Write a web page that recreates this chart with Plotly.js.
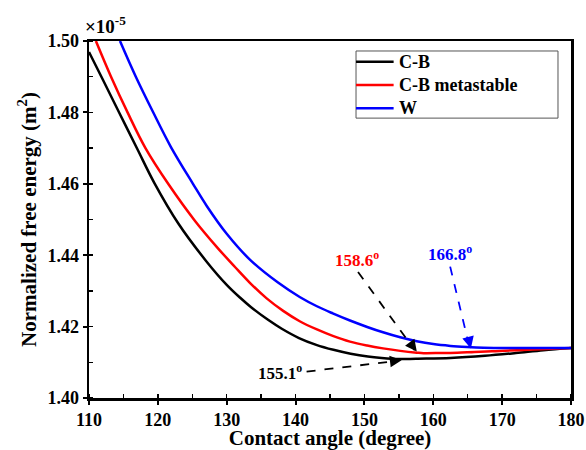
<!DOCTYPE html>
<html>
<head>
<meta charset="utf-8">
<script src="https://cdn.plot.ly/plotly-3.0.1.min.js"></script>
<style>
html,body{margin:0;padding:0;background:#fff;}
#chart{width:586px;height:450px;}
</style>
</head>
<body>
<div id="chart"></div>
<script>
// Contact angle (degree) and normalized free energy (x1e-5 m^2)
const cbAngle = [110, 112, 114.5, 117, 119.5, 123, 127, 130, 132, 133.5, 136, 138, 140.5, 143, 145.5, 148, 150.5, 152.5, 155.1, 157.5, 162.5, 167.5, 172, 176, 180];
const cbEnergy = [1.4969, 1.4892, 1.4795, 1.4698, 1.4602, 1.4488, 1.4384, 1.4317, 1.4280, 1.4255, 1.4219, 1.4194, 1.4168, 1.4149, 1.4135, 1.4124, 1.4116, 1.4112, 1.4109, 1.4110, 1.4112, 1.4118, 1.4126, 1.4134, 1.4140];

const cbmAngle = [111.0, 113.2, 115.6, 118.2, 121.5, 125.4, 128.7, 131.2, 133.4, 135.8, 138.2, 140.6, 143.1, 145.4, 147.9, 150.4, 152.7, 155.2, 157.6, 158.6, 161, 163.5, 166, 169, 172.2, 176.3, 180];
const cbmEnergy = [1.5000, 1.4900, 1.4800, 1.4700, 1.4600, 1.4496, 1.4420, 1.4367, 1.4322, 1.4279, 1.4244, 1.4215, 1.4192, 1.4174, 1.4158, 1.4147, 1.4139, 1.4132, 1.4127, 1.41255, 1.4126, 1.4127, 1.4129, 1.4131, 1.4134, 1.4137, 1.4140];

const wAngle = [114.5, 116.8, 119.3, 121.9, 125.1, 127.1, 130.0, 133.4, 137.4, 140.6, 143.1, 145.4, 147.9, 150.4, 152.7, 155.2, 157.6, 160.0, 162.5, 164.9, 167.3, 172.2, 180];
const wEnergy = [1.5000, 1.4900, 1.4801, 1.4703, 1.4600, 1.4538, 1.4460, 1.4387, 1.4324, 1.4283, 1.4257, 1.4237, 1.4217, 1.4199, 1.4184, 1.4170, 1.4159, 1.4151, 1.4146, 1.4143, 1.4141, 1.4140, 1.4140];

const seriesNames = ["C-B", "C-B metastable", "W"];
const seriesColors = ["#000000", "#ff0000", "#0000ff"];
const xTicks = [110, 120, 130, 140, 150, 160, 170, 180];
const yTicks = [1.40, 1.42, 1.44, 1.46, 1.48, 1.50];

function tf(size, color) {
  return {family: "Liberation Serif", size: size, color: color || "#000000", weight: 700};
}

const series = [[cbAngle, cbEnergy], [cbmAngle, cbmEnergy], [wAngle, wEnergy]];
const traces = series.map((s, i) => ({
  x: s[0], y: s[1], name: seriesNames[i], mode: "lines", showlegend: false,
  line: {color: seriesColors[i], width: 2.5, shape: "spline", smoothing: 1}
}));

function arrowShaft(x0, y0, x1, y1, color) {
  return {type: "line", xref: "x", yref: "y", x0: x0, y0: y0, x1: x1, y1: y1,
          line: {color: color, width: 1.8, dash: "dash"}};
}
function arrowHead(x, y, ax, ay, color) {
  return {x: x, y: y, xref: "x", yref: "y", text: "", showarrow: true, ax: ax, ay: ay,
          arrowhead: 2, arrowsize: 1.3, arrowwidth: 1.8, arrowcolor: color};
}

// legend box drawn in paper coordinates
const legX0 = 0.554, legX1 = 0.973, legY0 = 0.784, legY1 = 0.972;
const legRowY = [0.942, 0.877, 0.8115];
const legendShapes = [{type: "rect", xref: "paper", yref: "paper", x0: legX0, x1: legX1, y0: legY0, y1: legY1,
                       line: {color: "#555555", width: 1}, fillcolor: "rgba(0,0,0,0)"}];
const legendTexts = [];
seriesNames.forEach((n, i) => {
  legendShapes.push({type: "line", xref: "paper", yref: "paper", x0: legX0, x1: 0.632, y0: legRowY[i], y1: legRowY[i],
                     line: {color: seriesColors[i], width: 2.5}});
  legendTexts.push({x: 0.638, y: legRowY[i], xref: "paper", yref: "paper", xanchor: "left", yanchor: "middle",
                    text: n, showarrow: false, font: tf(18)});
});

const layout = {
  width: 586, height: 450,
  margin: {l: 89, r: 15, t: 41, b: 52},
  paper_bgcolor: "#ffffff", plot_bgcolor: "#ffffff",
  font: {family: "Liberation Serif", color: "#000000"},
  showlegend: false,
  xaxis: {range: [110, 180], tickvals: xTicks, ticktext: xTicks.map(String),
          showline: true, linewidth: 2.5, linecolor: "#000000", mirror: true,
          ticks: "outside", ticklen: 4, tickwidth: 2, tickcolor: "#000000",
          minor: {dtick: 5, ticks: "inside", ticklen: 4, tickwidth: 1.5, tickcolor: "#000000"},
          showgrid: false, zeroline: false, tickfont: tf(18),
          title: {text: "Contact angle (degree)", font: tf(21)}},
  yaxis: {range: [1.40, 1.50], tickvals: yTicks, ticktext: yTicks.map(v => v.toFixed(2)),
          showline: true, linewidth: 2.5, linecolor: "#000000", mirror: true,
          ticks: "outside", ticklen: 4, tickwidth: 2, tickcolor: "#000000",
          minor: {dtick: 0.01, ticks: "inside", ticklen: 4, tickwidth: 1.5, tickcolor: "#000000"},
          showgrid: false, zeroline: false, tickfont: tf(18),
          title: {text: "Normalized free energy (m<sup>2</sup>)", font: tf(21)}},
  shapes: [
    arrowShaft(149.07, 1.4353, 157.3, 1.4134, "#000000"),
    arrowShaft(162.45, 1.4368, 165.2, 1.4147, "#0000ff"),
    arrowShaft(141.6, 1.4074, 154.8, 1.4104, "#000000")
  ].concat(legendShapes),
  annotations: [
    {x: -0.013, y: 1.045, xref: "paper", yref: "paper", xanchor: "left", yanchor: "middle",
     text: "×10<sup>-5</sup>", showarrow: false, font: tf(19)},
    {x: 148.9, y: 1.4389, xref: "x", yref: "y", text: "158.6<sup>o</sup>", showarrow: false, font: tf(17, "#ff0000")},
    {x: 162.45, y: 1.4406, xref: "x", yref: "y", text: "166.8<sup>o</sup>", showarrow: false, font: tf(17, "#0000ff")},
    {x: 137.75, y: 1.4073, xref: "x", yref: "y", text: "155.1<sup>o</sup>", showarrow: false, font: tf(17)},
    arrowHead(157.6, 1.4130, -6, -8, "#000000"),
    arrowHead(165.46, 1.4139, -2.5, -10, "#0000ff"),
    arrowHead(155.4, 1.4106, -10, 1.2, "#000000")
  ].concat(legendTexts)
};

Plotly.newPlot("chart", traces, layout, {displayModeBar: false, staticPlot: true});
</script>
</body>
</html>
